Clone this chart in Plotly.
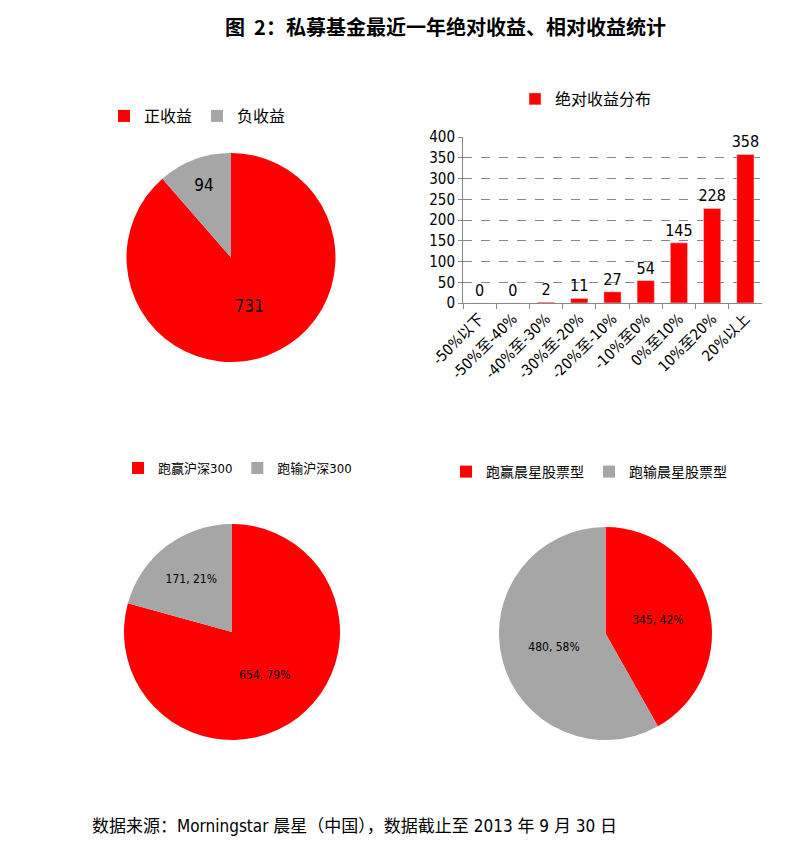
import plotly.graph_objects as go

W, H = 792, 850
PAGE_PAD = 8  # the browser's default body margin shifts the figure

# 正/负收益
abs_labels = ["正收益", "负收益"]
abs_counts = [731, 94]

# 绝对收益分布
bins = ["-50%以下", "-50%至-40%", "-40%至-30%", "-30%至-20%", "-20%至-10%",
        "-10%至0%", "0%至10%", "10%至20%", "20%以上"]
bin_counts = [0, 0, 2, 11, 27, 54, 145, 228, 358]

# 相对沪深300
hs_labels = ["跑赢沪深300", "跑输沪深300"]
hs_counts = [654, 171]

# 相对晨星股票型
ms_labels = ["跑赢晨星股票型", "跑输晨星股票型"]
ms_counts = [345, 480]

RED = "#FF0000"
GREY = "#A6A6A6"
FONT = ("DejaVu Sans Condensed, Liberation Sans Narrow, Liberation Sans, "
        "Noto Sans CJK SC, sans-serif")


def fx(x):
    return (x - PAGE_PAD) / W


def fy(y):
    return 1 - (y - PAGE_PAD) / H


def px(x0, x1):
    return [fx(x0), fx(x1)]


def py(top, bottom):
    return [fy(bottom), fy(top)]


fig = go.Figure()

fig.add_trace(go.Pie(
    labels=abs_labels, values=abs_counts, sort=False, direction="clockwise",
    rotation=0, marker=dict(colors=[RED, GREY]),
    textinfo="value", textposition="inside", insidetextorientation="horizontal",
    textfont=dict(size=17, color="black", family=FONT),
    domain=dict(x=px(126, 336), y=py(153, 362)),
    legend="legend", hoverinfo="label+value",
))

fig.add_trace(go.Bar(
    x=bins, y=bin_counts, name="绝对收益分布", marker_color=RED,
    text=bin_counts, textposition="outside", cliponaxis=False,
    constraintext="none",
    textfont=dict(size=16, color="black", family=FONT),
    legend="legend2",
))

fig.add_trace(go.Pie(
    labels=hs_labels, values=hs_counts, sort=False, direction="clockwise",
    rotation=0, marker=dict(colors=[RED, GREY]),
    texttemplate="%{value}, %{percent:.0%}", textposition="inside",
    insidetextorientation="horizontal",
    textfont=dict(size=12, color="black", family=FONT),
    domain=dict(x=px(123, 341), y=py(524, 740)),
    legend="legend3",
))

fig.add_trace(go.Pie(
    labels=ms_labels, values=ms_counts, sort=False, direction="clockwise",
    rotation=0, marker=dict(colors=[RED, GREY]),
    texttemplate="%{value}, %{percent:.0%}", textposition="inside",
    insidetextorientation="horizontal",
    textfont=dict(size=12, color="black", family=FONT),
    domain=dict(x=px(499, 712), y=py(527, 740)),
    legend="legend4",
))

legend_common = dict(orientation="h", yanchor="middle",
                     bgcolor="rgba(0,0,0,0)", itemwidth=30)

fig.update_layout(
    width=W, height=H,
    margin=dict(l=0, r=0, t=0, b=0, autoexpand=False),
    paper_bgcolor="white", plot_bgcolor="white",
    font=dict(family=FONT, color="black"),
    bargap=0.48,
    xaxis=dict(
        domain=px(463, 762), tickangle=-45, showgrid=False,
        showline=True, linecolor="#888888", ticks="outside", tickson="boundaries",
        ticklen=5, tickcolor="#888888", tickfont=dict(size=15, family=FONT),
    ),
    yaxis=dict(
        domain=py(137, 303), range=[0, 400], dtick=50,
        showline=True, linecolor="#888888", ticks="outside", ticklen=4,
        tickcolor="#888888", tickfont=dict(size=15, family=FONT),
        showgrid=True, gridcolor="#888888", griddash="dash", gridwidth=1,
        zeroline=False,
    ),
    legend=dict(x=fx(104), y=fy(116), xanchor="left",
                font=dict(size=16), **legend_common),
    legend2=dict(x=fx(515), y=fy(99), xanchor="left",
                 font=dict(size=16), **legend_common),
    legend3=dict(x=fx(118), y=fy(468), xanchor="left",
                 font=dict(size=13), **legend_common),
    legend4=dict(x=fx(732), y=fy(472), xanchor="right",
                 font=dict(size=14), **legend_common),
    annotations=[
        dict(text="<b>图\u00a0\u00a02：私募基金最近一年绝对收益、相对收益统计</b>",
             x=fx(445), y=fy(27), xref="paper", yref="paper",
             showarrow=False, xanchor="center", yanchor="middle",
             font=dict(size=20, family="Noto Sans CJK SC")),
        dict(text="数据来源：Morningstar 晨星（中国），数据截止至 2013 年 9 月 30 日",
             x=fx(90), y=fy(826), xref="paper", yref="paper",
             showarrow=False, xanchor="left", yanchor="middle",
             font=dict(size=17, family=FONT)),
    ],
)

fig.write_html("out.html")
